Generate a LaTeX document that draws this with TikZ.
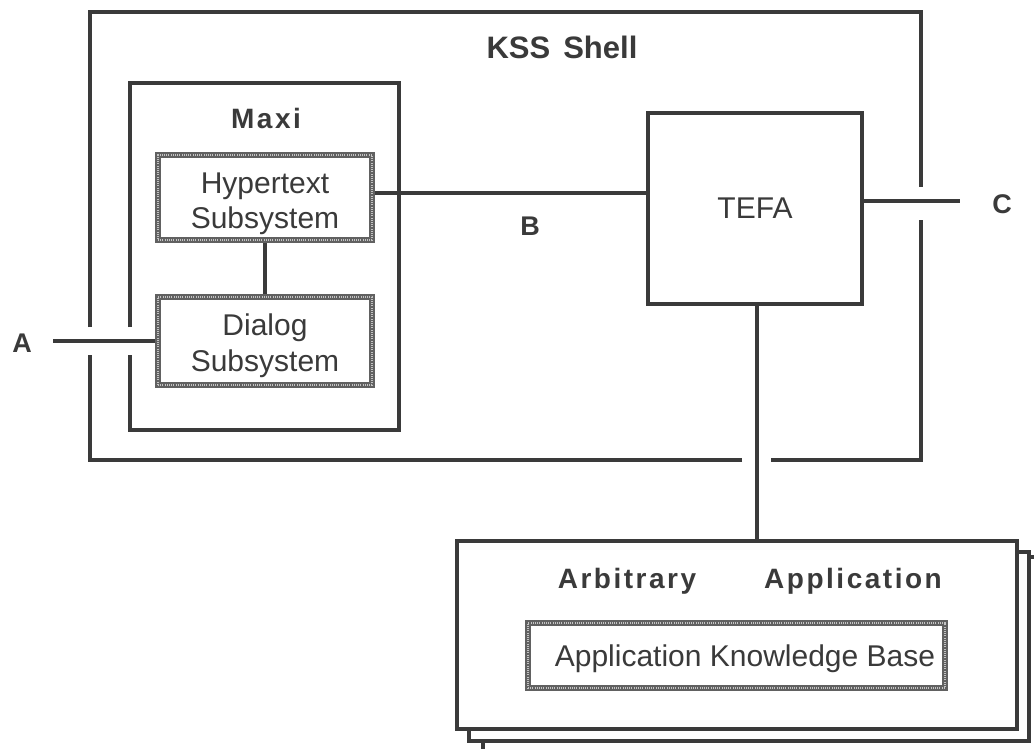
\documentclass[tikz,border=0pt]{standalone}
\usepackage{fontspec}
\setmainfont{Liberation Sans}
\definecolor{ink}{HTML}{3A3A3A}
\begin{document}
\begin{tikzpicture}[x=1pt,y=-1pt,
  shell/.style={draw=ink, line width=4.5pt},
  boxline/.style={draw=ink, line width=3.5pt},
  conn/.style={draw=ink, line width=4pt},
  plainbox/.style={draw=ink, line width=3.5pt, inner sep=0pt, fill=white},
  appbox/.style={draw=ink, line width=4.5pt, inner sep=0pt, fill=white},
  hatch/.style={draw=ink!80, line width=5.5pt, inner sep=0pt,
    postaction={draw=white!70!ink, line width=1.2pt, dash pattern=on 1pt off 1.2pt}},
  txt/.style={text=ink, anchor=base, inner sep=0pt, font=\fontsize{30}{36}\selectfont},
  btxt/.style={text=ink, anchor=base, inner sep=0pt, font=\fontsize{28}{32}\selectfont\bfseries\addfontfeatures{LetterSpace=9}},
  lbl/.style={text=ink, anchor=base, inner sep=0pt, font=\fontsize{27}{30}\selectfont\bfseries}
]
\useasboundingbox[fill=white] (0,0) rectangle (1034,748);

% KSS Shell outline with gaps
\draw[shell] (90,327) -- (90,12) -- (921,12) -- (921,187);
\draw[shell] (921,220) -- (921,460) -- (771,460);
\draw[shell] (742,460) -- (90,460) -- (90,355);
\node[lbl, font=\fontsize{31}{34}\selectfont\bfseries] (kss) at (562,58) {KSS\hspace{13pt}Shell};

% Maxi outline with gap
\draw[boxline] (130,327) -- (130,83) -- (399,83) -- (399,430) -- (130,430) -- (130,355);
\node[btxt] (maxi) at (266,128) {Maxi};

% Subsystems
\node[hatch, minimum width=214pt, minimum height=85pt] (hyper) at (265,197.5) {};
\node[txt] (hyperA) at (265,193) {Hypertext};
\node[txt] (hyperB) at (265,228) {Subsystem};

\node[hatch, minimum width=214pt, minimum height=88pt] (dialog) at (265,341) {};
\node[txt] (dialogA) at (265,335) {Dialog};
\node[txt] (dialogB) at (265,371) {Subsystem};

% TEFA
\node[plainbox, minimum width=214pt, minimum height=191pt] (tefa) at (755,208.5) {};
\node[txt] (tefaT) at (755,218) {TEFA};

% Application stack
\draw[appbox] (483,557) rectangle (1045,770);
\draw[appbox] (469,552) rectangle (1029,741);
\node[appbox, minimum width=560pt, minimum height=188pt] (app) at (737,635) {};
\node[btxt] (arb) at (627,588) {Arbitrary};
\node[btxt] (appl) at (853,588) {Application};
\node[hatch, minimum width=417pt, minimum height=65pt] (akb) at (736.5,655.5) {};
\node[txt] (akbT) at (745,666) {Application Knowledge Base};

% Connectors
\coordinate (bline) at (0,193);
\draw[conn] (bline -| hyper.east) -- (bline -| tefa.west);
\node[lbl] (B) at (530,235) {B};
\draw[conn] (hyper.south) -- (dialog.north);
\coordinate (aend) at (53,341);
\draw[conn] (aend) -- (dialog.west);
\node[lbl] (A) at (22,352) {A};
\coordinate (cend) at (960,201);
\draw[conn] (cend -| tefa.east) -- (cend);
\node[lbl] (C) at (1002,213) {C};
\coordinate (vx) at (757,0);
\draw[conn] (tefa.south -| vx) -- (app.north -| vx);
\end{tikzpicture}
\end{document}
